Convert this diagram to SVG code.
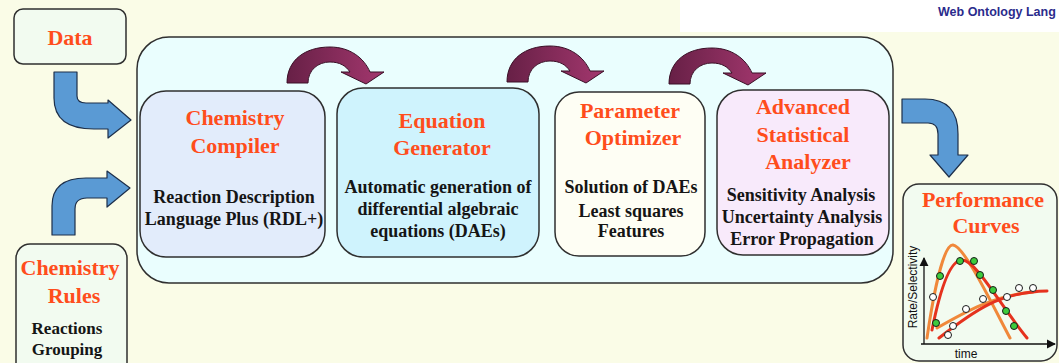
<svg xmlns="http://www.w3.org/2000/svg" width="1059" height="363" viewBox="0 0 1059 363">
  <defs>
    <style>
      .box { stroke: #2f2f2f; stroke-width: 1.5; }
      .title { font-family: "Liberation Serif", "Times New Roman", serif; font-weight: bold; font-size: 22px; fill: #FF4D1C; text-anchor: middle; }
      .body { font-family: "Liberation Serif", "Times New Roman", serif; font-weight: bold; font-size: 18px; fill: #151515; text-anchor: middle; }
      .blue { fill: #5A9AD4; stroke: #1d2f4a; stroke-width: 1.2; stroke-linejoin: round; }
      .hop { fill: url(#hopGrad); stroke: #3a0f26; stroke-width: 1; stroke-linejoin: round; }
      .axis { font-family: "Liberation Sans", Arial, sans-serif; font-size: 12px; fill: #111; }
      .dotG { fill: #3DCB3D; stroke: #1a1a1a; stroke-width: 1; }
      .dotW { fill: #ffffff; stroke: #1a1a1a; stroke-width: 1; }
    </style>
    <linearGradient id="hopGrad" x1="0" y1="0" x2="1" y2="0">
      <stop offset="0" stop-color="#672046"/>
      <stop offset="1" stop-color="#A3376E"/>
    </linearGradient>
    <!-- curved hop arrow between neighbouring stages -->
    <path id="hop" d="M 287 83 C 287 60, 305 47, 330 47 C 350 47, 364 58, 370 72 L 384 72 L 366 84 L 341 72 L 350 72 C 346 66, 340 62, 330 62 C 318 62, 308 70, 308 83 Z"/>
    <marker id="axHead" viewBox="0 0 10 10" refX="9" refY="5" markerWidth="7" markerHeight="7" orient="auto">
      <path d="M0 0 L10 5 L0 10 Z" fill="#111"/>
    </marker>
  </defs>

  <!-- page background -->
  <rect x="0" y="0" width="1059" height="363" fill="#FAFCE7"/>
  <rect x="680" y="0" width="379" height="32" fill="#ffffff"/>
  <text x="938" y="16" font-family="Liberation Sans, Arial, sans-serif" font-weight="bold" font-size="12.5" fill="#2B2B8C">Web Ontology Lang</text>

  <!-- pipeline container -->
  <g id="pipeline">
    <rect class="box" x="137" y="37" width="756" height="246" rx="32" fill="#EAFEFE"/>
  </g>

  <g id="data">
    <rect class="box" x="14" y="9" width="112" height="55" rx="9" fill="#F2FBF0"/>
    <text class="title" x="70" y="45">Data</text>
  </g>

  <g id="chemistry-rules">
    <rect class="box" x="16" y="244" width="111" height="135" rx="14" fill="#F2FBF0"/>
    <text class="title" x="70" y="275">Chemistry</text>
    <text class="title" x="74" y="303">Rules</text>
    <text class="body" x="67" y="334" style="font-size:17px">Reactions</text>
    <text class="body" x="67" y="355" style="font-size:17px">Grouping</text>
  </g>

  <g id="chemistry-compiler">
    <rect class="box" x="140" y="91" width="185" height="166" rx="26" fill="#E2ECFB"/>
    <text class="title" x="235" y="125">Chemistry</text>
    <text class="title" x="235" y="153">Compiler</text>
    <text class="body" x="234" y="203">Reaction Description</text>
    <text class="body" x="234" y="225">Language Plus (RDL+)</text>
  </g>

  <g id="equation-generator">
    <rect class="box" x="337" y="88" width="202" height="169" rx="26" fill="#CFF3FD"/>
    <text class="title" x="442" y="128">Equation</text>
    <text class="title" x="442" y="155">Generator</text>
    <text class="body" x="438" y="193">Automatic generation of</text>
    <text class="body" x="438" y="215">differential algebraic</text>
    <text class="body" x="438" y="237">equations (DAEs)</text>
  </g>

  <g id="parameter-optimizer">
    <rect class="box" x="555" y="92" width="150" height="164" rx="24" fill="#FEFEF4"/>
    <text class="title" x="630" y="118">Parameter</text>
    <text class="title" x="633" y="145">Optimizer</text>
    <text class="body" x="631" y="193">Solution of DAEs</text>
    <text class="body" x="631" y="217">Least squares</text>
    <text class="body" x="631" y="237">Features</text>
  </g>

  <g id="statistical-analyzer">
    <rect class="box" x="717" y="90" width="172" height="165" rx="26" fill="#F8EAFB"/>
    <text class="title" x="803" y="114">Advanced</text>
    <text class="title" x="803" y="142">Statistical</text>
    <text class="title" x="808" y="169">Analyzer</text>
    <text class="body" x="801" y="201">Sensitivity Analysis</text>
    <text class="body" x="802" y="223">Uncertainty Analysis</text>
    <text class="body" x="802" y="245">Error Propagation</text>
  </g>

  <g id="performance-curves">
    <rect class="box" x="903" y="184" width="154" height="177" rx="16" fill="#F2FBF0"/>
    <text class="title" x="983" y="207">Performance</text>
    <text class="title" x="986" y="233">Curves</text>
    <!-- axes -->
    <line x1="924" y1="344" x2="924" y2="258" stroke="#111" stroke-width="1.3" marker-end="url(#axHead)"/>
    <line x1="921" y1="344" x2="1055" y2="344" stroke="#111" stroke-width="1.3" marker-end="url(#axHead)"/>
    <text class="axis" x="0" y="0" text-anchor="middle" transform="translate(917 287) rotate(-90)">Rate/Selectivity</text>
    <text class="axis" x="966" y="358" text-anchor="middle">time</text>
    <!-- fitted curves -->
    <g fill="none" stroke-width="3" stroke-linecap="round">
      <path d="M 927 338 C 934 290, 944 244, 953 245 C 964 246, 990 300, 1010 338" stroke="#F0883A"/>
      <path d="M 937 328 C 965 312, 995 295, 1033 292" stroke="#F0883A"/>
      <path d="M 932 330 C 940 290, 950 260, 962 260 C 976 260, 1000 305, 1027 338" stroke="#E5321E"/>
      <path d="M 939 338 C 975 310, 1000 292, 1047 291" stroke="#E5321E"/>
    </g>
    <!-- measured points -->
    <g>
      <circle class="dotG" cx="936" cy="323" r="3.5"/>
      <circle class="dotG" cx="940" cy="276" r="3.5"/>
      <circle class="dotG" cx="960" cy="261" r="3.5"/>
      <circle class="dotG" cx="974" cy="261" r="3.5"/>
      <circle class="dotG" cx="980" cy="275" r="3.5"/>
      <circle class="dotG" cx="993" cy="290" r="3.5"/>
      <circle class="dotG" cx="1006" cy="311" r="3.5"/>
      <circle class="dotG" cx="1014" cy="326" r="3.5"/>
      <circle class="dotW" cx="933" cy="297" r="3.5"/>
      <circle class="dotW" cx="948" cy="335" r="3.5"/>
      <circle class="dotW" cx="953" cy="326" r="3.5"/>
      <circle class="dotW" cx="966" cy="309" r="3.5"/>
      <circle class="dotW" cx="983" cy="299" r="3.5"/>
      <circle class="dotW" cx="1007" cy="297" r="3.5"/>
      <circle class="dotW" cx="1019" cy="288" r="3.5"/>
      <circle class="dotW" cx="1033" cy="288" r="3.5"/>
    </g>
  </g>

  <!-- connectors -->
  <g id="connectors">
    <path class="blue" d="M 54 72 L 77 72 L 77 96 Q 77 103 86 103 L 108 103 L 108 100 L 131 120 L 108 138 L 108 129 L 94 129 Q 54 129 54 98 Z"/>
    <path class="blue" d="M 52 235 L 52 206 Q 52 178 86 178 L 107 178 L 107 171 L 130 188 L 107 207 L 107 198 L 87 198 Q 75 198 75 209 L 75 235 Z"/>
    <path class="blue" d="M 902 99 L 925 99 Q 958 99 958 134 L 958 155 L 968 155 L 949 177 L 930 155 L 938 155 L 938 134 Q 938 123 928 123 L 902 123 Z"/>
    <use href="#hop" class="hop"/>
    <use href="#hop" class="hop" transform="translate(220 -1)"/>
    <use href="#hop" class="hop" transform="translate(382 1)"/>
  </g>
</svg>
